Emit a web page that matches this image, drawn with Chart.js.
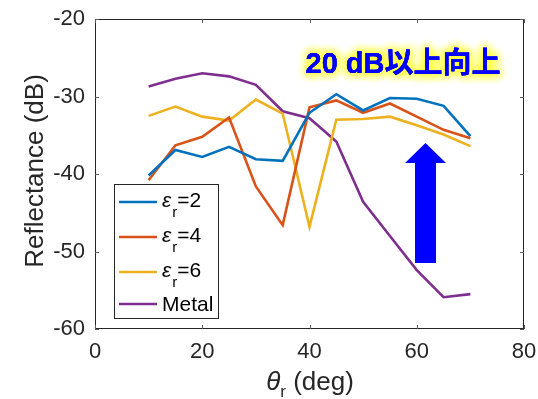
<!DOCTYPE html>
<html>
<head>
<meta charset="utf-8">
<script src="https://cdn.jsdelivr.net/npm/chart.js@4/dist/chart.umd.min.js"></script>
<style>
  html, body { margin: 0; padding: 0; background: #fff; }
  #wrap { width: 538px; height: 399px; }
</style>
</head>
<body>
<div id="wrap"><canvas id="myChart1" width="538" height="399"></canvas></div>
<script>
// Angles (deg)
const angles = [10, 15, 20, 25, 30, 35, 40, 45, 50, 55, 60, 65, 70];

// Reflectance values (dB)
const eps2 = [-40.2, -36.9, -37.8, -36.5, -38.1, -38.3, -32.1, -29.7, -31.8, -30.2, -30.3, -31.2, -35.1];
const eps4 = [-40.8, -36.3, -35.2, -32.7, -41.6, -46.6, -31.4, -30.5, -32.1, -30.9, -32.6, -34.3, -35.4];
const eps6 = [-32.5, -31.3, -32.6, -33.1, -30.4, -32.2, -46.8, -33.0, -32.9, -32.6, -33.7, -34.9, -36.4];
const metal = [-28.7, -27.7, -27.0, -27.4, -28.5, -31.9, -32.8, -35.8, -43.6, -48.0, -52.4, -55.9, -55.5];

const xTicks = [0, 20, 40, 60, 80];
const yTicks = [-60, -50, -40, -30, -20];

const seriesLabels = ['2', '4', '6', 'Metal'];
const seriesColors = ['#0072BD', '#D95319', '#EDB120', '#7E2F8E'];
const annotationText = '20 dB以上向上';

const FONT = '"Liberation Sans", Arial, sans-serif';
const TXT = '#262626';

function mkSet(label, data, color) {
    return {
        label: label,
        data: angles.map((a, i) => ({ x: a, y: data[i] })),
        borderColor: color,
        backgroundColor: color,
        borderWidth: 2.6,
        pointRadius: 0,
        tension: 0,
        fill: false
    };
}

// Box, inward ticks, axis titles, legend and annotation
const decorPlugin = {
    id: 'decor',
    afterDatasetsDraw(chart) {
        const ctx = chart.ctx;
        const a = chart.chartArea;
        const xs = chart.scales.x, ys = chart.scales.y;
        ctx.save();

        // axis box
        ctx.strokeStyle = '#262626';
        ctx.lineWidth = 1;
        ctx.strokeRect(a.left + 0.5, a.top + 0.5, a.right - a.left - 1, a.bottom - a.top - 1);

        // inward ticks
        ctx.strokeStyle = '#5a5a5a';
        ctx.beginPath();
        xTicks.forEach(v => {
            const px = Math.round(xs.getPixelForValue(v)) + 0.5;
            ctx.moveTo(px, a.bottom); ctx.lineTo(px, a.bottom - 4);
            ctx.moveTo(px, a.top); ctx.lineTo(px, a.top + 4);
        });
        yTicks.forEach(v => {
            const py = Math.round(ys.getPixelForValue(v)) + 0.5;
            ctx.moveTo(a.left, py); ctx.lineTo(a.left + 4, py);
            ctx.moveTo(a.right, py); ctx.lineTo(a.right - 4, py);
        });
        ctx.stroke();

        // y title
        ctx.fillStyle = TXT;
        ctx.font = '26px ' + FONT;
        ctx.textAlign = 'center';
        ctx.textBaseline = 'alphabetic';
        ctx.save();
        ctx.translate(43, 171);
        ctx.rotate(-Math.PI / 2);
        ctx.fillText('Reflectance (dB)', 0, 0);
        ctx.restore();

        // x title: theta_r (deg)
        const cx = 310;
        const ty = 390;
        ctx.textAlign = 'left';
        ctx.font = 'italic 26px ' + FONT;
        const wTh = ctx.measureText('θ').width;
        ctx.font = '17px ' + FONT;
        const wR = ctx.measureText('r').width;
        ctx.font = '26px ' + FONT;
        const wRest = ctx.measureText(' (deg)').width;
        let x0 = cx - (wTh + wR + wRest) / 2;
        ctx.font = 'italic 26px ' + FONT;
        ctx.fillText('θ', x0, ty);
        ctx.font = '17px ' + FONT;
        ctx.fillText('r', x0 + wTh, ty + 7);
        ctx.font = '26px ' + FONT;
        ctx.fillText(' (deg)', x0 + wTh + wR, ty);

        // legend
        const lx = 114, ly = 184, lw = 104, lh = 134;
        ctx.fillStyle = '#fff';
        ctx.fillRect(lx, ly, lw, lh);
        ctx.strokeStyle = '#262626';
        ctx.lineWidth = 1;
        ctx.strokeRect(lx + 0.5, ly + 0.5, lw, lh);
        const rowY = [202, 237, 272, 304];
        seriesLabels.forEach((lab, i) => {
            const y = rowY[i];
            ctx.strokeStyle = seriesColors[i];
            ctx.lineWidth = 2.6;
            ctx.beginPath();
            ctx.moveTo(119, y); ctx.lineTo(157, y);
            ctx.stroke();
            ctx.fillStyle = '#000';
            ctx.textBaseline = 'middle';
            if (lab === 'Metal') {
                ctx.font = '21px ' + FONT;
                ctx.fillText('Metal', 162, y + 1);
            } else {
                ctx.font = 'italic 21px ' + FONT;
                ctx.fillText('ε', 162, y - 1);
                const we = ctx.measureText('ε').width;
                ctx.font = '15px ' + FONT;
                ctx.fillText('r', 162 + we + 1, y + 11);
                const wr = ctx.measureText('r').width;
                ctx.font = '21px ' + FONT;
                ctx.fillText('=' + lab, 162 + we + wr + 1, y - 1);
            }
        });

        // upward arrow
        ctx.fillStyle = '#0000FF';
        ctx.beginPath();
        ctx.moveTo(415, 263);
        ctx.lineTo(415, 163);
        ctx.lineTo(405, 163);
        ctx.lineTo(425.5, 143);
        ctx.lineTo(446, 163);
        ctx.lineTo(436, 163);
        ctx.lineTo(436, 263);
        ctx.closePath();
        ctx.fill();

        // annotation text with yellow glow
        ctx.font = 'bold 29px "Liberation Sans", "Noto Sans CJK JP", sans-serif';
        ctx.textAlign = 'center';
        ctx.textBaseline = 'alphabetic';
        ctx.shadowColor = 'rgba(255,255,60,0.9)';
        ctx.shadowBlur = 10;
        ctx.fillStyle = '#0000FF';
        for (let k = 0; k < 5; k++) ctx.fillText(annotationText, 403, 73);
        ctx.shadowBlur = 0;
        ctx.fillText(annotationText, 403, 73);

        ctx.restore();
    }
};

const ctx = document.getElementById('myChart1').getContext('2d');
const myChart1 = new Chart(ctx, {
    type: 'line',
    data: {
        datasets: [
            mkSet('εr=2', eps2, seriesColors[0]),
            mkSet('εr=4', eps4, seriesColors[1]),
            mkSet('εr=6', eps6, seriesColors[2]),
            mkSet('Metal', metal, seriesColors[3])
        ]
    },
    options: {
        responsive: false,
        animation: false,
        layout: { padding: { top: 19, right: 14, left: 0, bottom: 0 } },
        scales: {
            x: {
                type: 'linear',
                min: 0, max: 80,
                afterBuildTicks: s => { s.ticks = xTicks.map(v => ({ value: v })); },
                afterFit: s => {
                    s.height = 70;
                    s.paddingLeft = 0; s.paddingRight = 0;
                },
                grid: { display: false, drawTicks: false },
                border: { display: false },
                ticks: { color: TXT, font: { size: 22, family: FONT }, padding: 10, maxRotation: 0 }
            },
            y: {
                min: -60, max: -20,
                afterBuildTicks: s => { s.ticks = yTicks.map(v => ({ value: v })); },
                afterFit: s => {
                    s.width = 95;
                    s.paddingTop = 0; s.paddingBottom = 0;
                },
                grid: { display: false, drawTicks: false },
                border: { display: false },
                ticks: { color: TXT, font: { size: 22, family: FONT }, padding: 10 }
            }
        },
        plugins: {
            legend: { display: false },
            tooltip: { enabled: false }
        }
    },
    plugins: [decorPlugin]
});
</script>
</body>
</html>
